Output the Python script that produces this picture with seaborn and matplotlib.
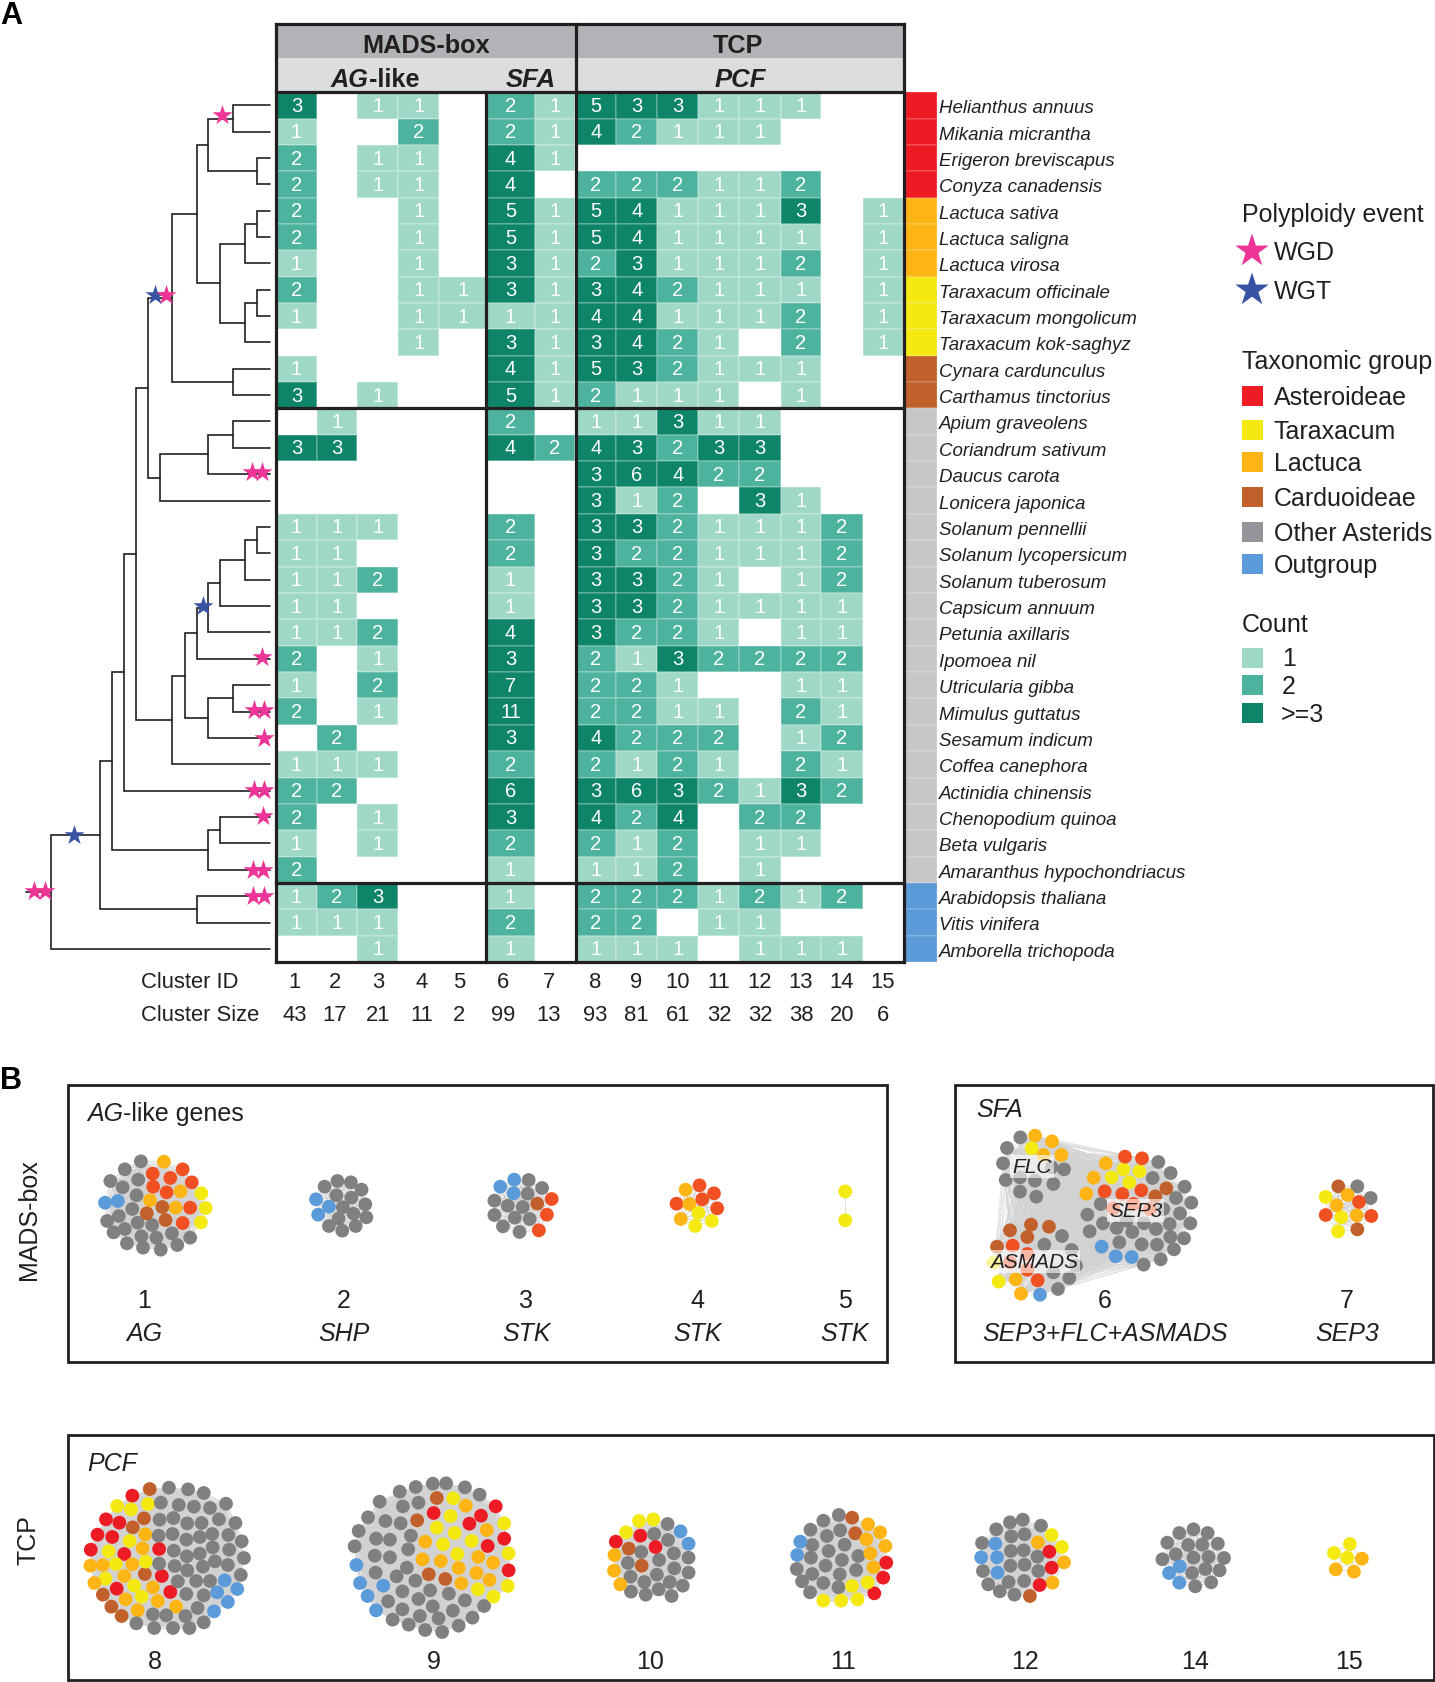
from itertools import combinations

import numpy as np
import pandas as pd
import matplotlib.pyplot as plt
import seaborn as sns
from matplotlib.collections import LineCollection
from matplotlib.colors import ListedColormap
from matplotlib.patches import Rectangle

sns.set_theme(style='white')
plt.rcParams['font.family'] = ['Liberation Sans', 'DejaVu Sans']

# ---- data: heatmap ----
species = ['Helianthus annuus', 'Mikania micrantha', 'Erigeron breviscapus', 'Conyza canadensis',
           'Lactuca sativa', 'Lactuca saligna', 'Lactuca virosa', 'Taraxacum officinale',
           'Taraxacum mongolicum', 'Taraxacum kok-saghyz', 'Cynara cardunculus', 'Carthamus tinctorius',
           'Apium graveolens', 'Coriandrum sativum', 'Daucus carota', 'Lonicera japonica',
           'Solanum pennellii', 'Solanum lycopersicum', 'Solanum tuberosum', 'Capsicum annuum',
           'Petunia axillaris', 'Ipomoea nil', 'Utricularia gibba', 'Mimulus guttatus',
           'Sesamum indicum', 'Coffea canephora', 'Actinidia chinensis', 'Chenopodium quinoa',
           'Beta vulgaris', 'Amaranthus hypochondriacus', 'Arabidopsis thaliana', 'Vitis vinifera',
           'Amborella trichopoda']
cluster_ids = list(range(1, 16))
cluster_sizes = [43, 17, 21, 11, 2, 99, 13, 93, 81, 61, 32, 32, 38, 20, 6]
counts = [
    [3, 0, 1, 1, 0, 2, 1, 5, 3, 3, 1, 1, 1, 0, 0],
    [1, 0, 0, 2, 0, 2, 1, 4, 2, 1, 1, 1, 0, 0, 0],
    [2, 0, 1, 1, 0, 4, 1, 0, 0, 0, 0, 0, 0, 0, 0],
    [2, 0, 1, 1, 0, 4, 0, 2, 2, 2, 1, 1, 2, 0, 0],
    [2, 0, 0, 1, 0, 5, 1, 5, 4, 1, 1, 1, 3, 0, 1],
    [2, 0, 0, 1, 0, 5, 1, 5, 4, 1, 1, 1, 1, 0, 1],
    [1, 0, 0, 1, 0, 3, 1, 2, 3, 1, 1, 1, 2, 0, 1],
    [2, 0, 0, 1, 1, 3, 1, 3, 4, 2, 1, 1, 1, 0, 1],
    [1, 0, 0, 1, 1, 1, 1, 4, 4, 1, 1, 1, 2, 0, 1],
    [0, 0, 0, 1, 0, 3, 1, 3, 4, 2, 1, 0, 2, 0, 1],
    [1, 0, 0, 0, 0, 4, 1, 5, 3, 2, 1, 1, 1, 0, 0],
    [3, 0, 1, 0, 0, 5, 1, 2, 1, 1, 1, 0, 1, 0, 0],
    [0, 1, 0, 0, 0, 2, 0, 1, 1, 3, 1, 1, 0, 0, 0],
    [3, 3, 0, 0, 0, 4, 2, 4, 3, 2, 3, 3, 0, 0, 0],
    [0, 0, 0, 0, 0, 0, 0, 3, 6, 4, 2, 2, 0, 0, 0],
    [0, 0, 0, 0, 0, 0, 0, 3, 1, 2, 0, 3, 1, 0, 0],
    [1, 1, 1, 0, 0, 2, 0, 3, 3, 2, 1, 1, 1, 2, 0],
    [1, 1, 0, 0, 0, 2, 0, 3, 2, 2, 1, 1, 1, 2, 0],
    [1, 1, 2, 0, 0, 1, 0, 3, 3, 2, 1, 0, 1, 2, 0],
    [1, 1, 0, 0, 0, 1, 0, 3, 3, 2, 1, 1, 1, 1, 0],
    [1, 1, 2, 0, 0, 4, 0, 3, 2, 2, 1, 0, 1, 1, 0],
    [2, 0, 1, 0, 0, 3, 0, 2, 1, 3, 2, 2, 2, 2, 0],
    [1, 0, 2, 0, 0, 7, 0, 2, 2, 1, 0, 0, 1, 1, 0],
    [2, 0, 1, 0, 0, 11, 0, 2, 2, 1, 1, 0, 2, 1, 0],
    [0, 2, 0, 0, 0, 3, 0, 4, 2, 2, 2, 0, 1, 2, 0],
    [1, 1, 1, 0, 0, 2, 0, 2, 1, 2, 1, 0, 2, 1, 0],
    [2, 2, 0, 0, 0, 6, 0, 3, 6, 3, 2, 1, 3, 2, 0],
    [2, 0, 1, 0, 0, 3, 0, 4, 2, 4, 0, 2, 2, 0, 0],
    [1, 0, 1, 0, 0, 2, 0, 2, 1, 2, 0, 1, 1, 0, 0],
    [2, 0, 0, 0, 0, 1, 0, 1, 1, 2, 0, 1, 0, 0, 0],
    [1, 2, 3, 0, 0, 1, 0, 2, 2, 2, 1, 2, 1, 2, 0],
    [1, 1, 1, 0, 0, 2, 0, 2, 2, 0, 1, 1, 0, 0, 0],
    [0, 0, 1, 0, 0, 1, 0, 1, 1, 1, 0, 1, 1, 1, 0],
]
# taxon group per species row: 0 Asteroideae, 1 Lactuca, 2 Taraxacum, 3 Carduoideae, 4 other, 5 outgroup
taxon_row = [0] * 4 + [1] * 3 + [2] * 3 + [3] * 2 + [4] * 18 + [5] * 3

# ---- data: species tree, (branch depth, child, child), ints are species rows ----
tree = (111,
        (217,
         (243,
          (270,
           (296,
            (322,
             (375,
              (428,
               (454, (507, 0, 1), (560, 2, 3)),
               (480, (533, (560, 4, 5), 6), (533, (560, 7, 8), 9))),
              (507, 10, 11)),
             (348, (454, (507, 12, 13), 14), 15)),
            (375,
             (402,
              (428, (454, (480, (533, (560, 16, 17), 18), 19), 20), 21),
              (454, (507, 22, 23), 24)),
             25)),
           26),
          (454, (480, 27, 28), 29)),
         (428, 30, 31)),
        32)
wgd_x = [484, 362, 548, 571, 570, 553, 575, 575, 553, 575, 572, 550, 573, 74, 98, 552, 574]
wgd_y = [116, 296, 473, 473, 658, 711, 711, 739, 791, 791, 817, 871, 871, 892, 892, 897, 897]
wgt_x = [338, 442, 161]
wgt_y = [296, 607, 836]

c1 = {'gray': [(151, 247), (121, 271), (94, 306), (146, 302), (117, 325), (143, 349), (135, 390), (110, 411), (88, 426),
               (121, 450), (100, 460), (145, 431), (172, 438), (152, 472), (180, 476), (209, 463), (243, 476),
               (219, 498), (188, 512), (155, 506), (125, 493)],
      'lact': [(194, 248), (225, 337), (168, 364), (216, 386)],
      'ast': [(229, 271), (173, 284), (206, 297), (246, 310), (174, 323), (199, 340), (243, 386), (229, 432)],
      'card': [(191, 384), (162, 403), (197, 423)],
      'tara': [(264, 343), (272, 387), (263, 430)],
      'out': [(84, 371), (108, 366)]}
c2 = {'gray': [(518, 306), (543, 310), (494, 323), (563, 332), (516, 349), (544, 356), (570, 376), (528, 385),
               (548, 404), (572, 415), (520, 419), (502, 441), (552, 441), (527, 455)],
      'out': [(478, 361), (502, 383), (482, 407)]}
c3 = {'gray': [(875, 303), (900, 327), (873, 344), (811, 365), (836, 380), (864, 384), (811, 408), (849, 416),
               (877, 420), (827, 442), (858, 459)],
      'out': [(848, 302), (822, 323), (847, 343)],
      'ast': [(918, 360), (909, 407), (894, 454)],
      'card': [(891, 374)]}
c4 = {'ast': [(1194, 319), (1221, 343), (1199, 361), (1151, 374), (1227, 388)],
      'lact': [(1168, 332), (1175, 375), (1159, 420)],
      'tara': [(1192, 402), (1217, 426), (1186, 441)]}
c5 = {'tara': [(1466, 337), (1466, 424)]}
c6 = {'gray': [(211, 175), (171, 207), (159, 253), (167, 303), (210, 338), (259, 353), (310, 315), (342, 271),
               (255, 305), (210, 295), (305, 265), (625, 249), (662, 282), (608, 297), (704, 323), (678, 357),
               (724, 371), (452, 375), (412, 407), (640, 390), (690, 403), (721, 433), (459, 433), (500, 447),
               (582, 433), (618, 450), (659, 435), (419, 457), (547, 459), (661, 474), (702, 478), (508, 490),
               (575, 496), (621, 497), (672, 511), (632, 541), (581, 557), (530, 425), (336, 471), (283, 497),
               (365, 513), (378, 560), (310, 580), (358, 597), (324, 630)],
      'lact': [(255, 170), (306, 187), (334, 228), (280, 228), (467, 253), (431, 296), (409, 344), (197, 601),
               (213, 644)],
      'tara': [(245, 208), (520, 271), (568, 277), (485, 295), (538, 310), (132, 550), (146, 608)],
      'ast': [(525, 233), (576, 238), (464, 337), (517, 345), (574, 334), (490, 388), (550, 375), (600, 390),
              (188, 500), (232, 525), (180, 550), (232, 572), (263, 604)],
      'card': [(649, 328), (616, 352), (180, 454), (243, 437), (297, 443), (232, 474), (141, 503)],
      'out': [(455, 503), (497, 532), (545, 534), (270, 647)]}
c7 = {'card': [(1165, 322), (1222, 451)],
      'gray': [(1222, 322), (1262, 357)],
      'tara': [(1127, 354), (1174, 415), (1164, 457)],
      'lact': [(1193, 348), (1160, 379), (1220, 409)],
      'ast': [(1227, 369), (1127, 408), (1264, 411)]}
c8 = {'ast2': [(162, 200), (103, 271), (133, 281), (84, 317), (117, 324), (69, 362), (144, 375), (222, 360),
               (228, 441), (127, 479), (247, 489)],
      'card': [(201, 180), (188, 268), (163, 295), (190, 435), (96, 497), (115, 533), (138, 561)],
      'tara': [(128, 231), (159, 241), (197, 225), (156, 336), (109, 367), (125, 405), (192, 398), (102, 449),
               (166, 470), (183, 503)],
      'lact': [(191, 316), (185, 358), (68, 410), (96, 408), (162, 406), (144, 441), (77, 462), (208, 475),
               (147, 511), (219, 516), (260, 533), (174, 544)],
      'gray': [(244, 176), (287, 181), (322, 192), (372, 224), (226, 221), (266, 228), (300, 233), (336, 237),
               (223, 272), (254, 267), (285, 283), (317, 282), (356, 271), (393, 282), (221, 320), (252, 315),
               (283, 332), (313, 324), (341, 315), (377, 318), (407, 337), (342, 355), (379, 362), (255, 365),
               (284, 382), (313, 374), (412, 387), (222, 404), (257, 411), (285, 424), (320, 413), (347, 397),
               (376, 408), (405, 438), (264, 457), (305, 456), (336, 456), (283, 495), (322, 499), (308, 537),
               (208, 556), (238, 559), (281, 561), (322, 580), (171, 583), (211, 597), (253, 597), (290, 597)],
      'out': [(369, 454), (397, 480), (352, 490), (376, 519), (345, 547)]}
c9 = {'gray': [(761, 188), (797, 174), (835, 164), (865, 163), (907, 175), (940, 197), (716, 218), (768, 232),
               (803, 221), (690, 265), (729, 276), (763, 283), (669, 306), (708, 329), (739, 332), (786, 320),
               (660, 352), (705, 380), (739, 385), (780, 361), (707, 431), (777, 416), (754, 442), (796, 455),
               (767, 487), (829, 484), (871, 494), (735, 517), (803, 510), (907, 514), (950, 531), (767, 541),
               (835, 532), (880, 545), (745, 572), (806, 561), (848, 568), (924, 566), (781, 587), (818, 603),
               (856, 609), (893, 590)],
      'card': [(844, 207), (800, 274), (826, 436), (863, 450)],
      'ast2': [(976, 232), (837, 252), (943, 260), (917, 284), (995, 329), (958, 351), (1005, 424)],
      'tara': [(881, 208), (875, 261), (995, 283), (844, 296), (884, 312), (858, 346), (922, 336), (890, 375),
               (1005, 373), (1003, 471), (936, 481), (971, 503)],
      'lact': [(909, 230), (956, 303), (818, 338), (812, 391), (853, 396), (937, 384), (970, 401), (893, 417),
               (933, 432), (962, 453), (899, 463)],
      'out': [(664, 408), (672, 462), (724, 470), (689, 501), (708, 544)]}
c10 = {'tara': [(1297, 276), (1329, 271), (1268, 310)],
       'gray': [(1361, 285), (1331, 315), (1362, 333), (1302, 369), (1375, 373), (1408, 386), (1272, 402), (1342, 393),
                (1376, 418), (1408, 431), (1278, 443), (1337, 437), (1309, 459), (1366, 459), (1395, 470), (1341, 481),
                (1279, 488), (1312, 497), (1370, 501)],
       'out': [(1390, 307), (1408, 344)],
       'ast2': [(1245, 338), (1300, 320), (1334, 354)],
       'card': [(1274, 359), (1303, 410)],
       'lact': [(1242, 378), (1241, 425), (1255, 466)]}
c11 = {'gray': [(223, 258), (188, 275), (159, 302), (226, 304), (196, 321), (163, 348), (236, 347), (200, 366),
                (160, 386), (267, 381), (230, 393), (193, 410), (128, 420), (262, 423), (163, 435), (225, 436),
                (140, 457), (188, 462), (222, 475), (158, 490)],
       'card': [(253, 266), (260, 313)],
       'lact': [(289, 286), (316, 310), (285, 331), (328, 351), (294, 373), (301, 415)],
       'out': [(136, 338), (129, 378)],
       'ast2': [(330, 401), (323, 446), (303, 493)],
       'tara': [(253, 471), (288, 460), (188, 515), (228, 515), (265, 511)]}
c12 = {'gray': [(609, 280), (638, 272), (578, 301), (679, 290), (612, 322), (642, 316), (546, 342), (611, 366),
                (640, 364), (671, 383), (610, 410), (642, 407), (548, 426), (673, 426), (606, 459), (641, 456),
                (560, 466), (586, 487), (619, 497)],
       'lact': [(672, 340), (731, 400), (705, 461)],
       'tara': [(703, 318), (726, 354)],
       'out': [(576, 344), (544, 385), (580, 385), (581, 431)],
       'ast2': [(698, 368), (703, 416), (676, 468)],
       'card': [(654, 501)]}
c14 = {'gray': [(991, 312), (1023, 301), (1055, 312), (964, 341), (1011, 348), (1043, 347), (1078, 344), (983, 376),
                (1023, 386), (1057, 384), (1092, 387), (953, 391), (1050, 420), (1020, 432), (1082, 424), (1063, 460),
                (1027, 472)],
       'out': [(992, 412), (968, 432), (991, 461)]}
c15 = {'tara': [(1376, 345), (1340, 372), (1370, 386)],
       'lact': [(1403, 389), (1344, 421), (1385, 428)]}

# ---- layout, reference pixels ----
W, H = 1435, 1683
col_edges = [276, 317, 357, 398.5, 439.5, 486, 535, 575, 616.5, 657.5, 698.3, 739.4, 780.6, 821.4, 862.7, 903.5]
id_x = [295, 334.7, 378, 422, 459, 503, 549, 595.5, 636, 678, 719, 760, 801, 842, 883]
row_breaks, row_px = [0, 12, 30, 33], [93.3, 409.3, 884, 963]
LEAF_X = 587
TREE_FX = 2.178
# crop origin and scale the node readings were taken in
CROP_TOP = (60, 1080, 1.867, 3)
CROP_SFA = (950, 1080, 3, 3)
CROP_PCF = (60, 1430, 2.24, 3)
CROP_PCF2 = (740, 1430, 2.256, 3)

INK = '#231f20'
RED, RED2, LACT, TARA, CARD, OUT = '#f15023', '#ed1c24', '#fdb515', '#f4e911', '#c1602a', '#5b9bd9'
node_colors = {'gray': '#808080', 'ast': RED, 'ast2': RED2, 'lact': LACT, 'tara': TARA, 'card': CARD, 'out': OUT}
bar_colors = [RED2, LACT, TARA, CARD, '#c6c7c9', OUT]
heat_colors = ['#9fd8c6', '#4db39e', '#0e8469']
PINK, BLUE = '#ec3596', '#3953a4'


def row_y(i):
    return np.interp(i, row_breaks, row_px)


def pixel_scales(ax, edges_x=None):
    # map cell indices onto the measured pixel edges
    if edges_x is not None:
        idx = np.arange(len(edges_x))
        ax.set_xscale('function', functions=(lambda v: np.interp(v, idx, edges_x),
                                             lambda v: np.interp(v, edges_x, idx)))
    ax.set_yscale('function', functions=(lambda v: np.interp(v, row_breaks, row_px),
                                         lambda v: np.interp(v, row_px, row_breaks)))
    ax.set_xticks([])
    ax.set_yticks([])
    ax.set_xlabel('')
    ax.set_ylabel('')


def axes_px(x0, y0, x1, y1, **kw):
    return fig.add_axes([x0 / W, 1 - y1 / H, (x1 - x0) / W, (y1 - y0) / H], **kw)


fig = plt.figure(figsize=(W / 100, H / 100), dpi=100)

# overlay in pixels for frames, labels, tree and networks
ax = fig.add_axes([0, 0, 1, 1], zorder=3)
ax.set_xlim(0, W)
ax.set_ylim(H, 0)
ax.axis('off')

# ---- A: heatmap ----
counts = np.array(counts)
heat_ax = axes_px(col_edges[0], row_px[0], col_edges[-1], row_px[-1], zorder=1)
sns.heatmap(np.minimum(counts, 3), mask=counts == 0, ax=heat_ax, cmap=ListedColormap(heat_colors),
            vmin=0.5, vmax=3.5, cbar=False, annot=counts, fmt='d', linewidths=0.3, linecolor='#ffffff30',
            annot_kws={'color': 'white', 'fontsize': 14.5})
pixel_scales(heat_ax, col_edges)

bar_ax = axes_px(903.5, row_px[0], 937, row_px[-1], zorder=1)
sns.heatmap(np.array(taxon_row).reshape(-1, 1), ax=bar_ax, cmap=ListedColormap(bar_colors), vmin=-0.5, vmax=5.5,
            cbar=False, linewidths=0.3, linecolor='#ffffff20')
pixel_scales(bar_ax)

for i, name in enumerate(species):
    ax.text(939, row_y(i + 0.5) + 2.5, name, style='italic', fontsize=13.5, color=INK, va='center')

# header bands
ax.add_patch(Rectangle((276, 25), 627.5, 34, fc='#b1b3b6', ec='none', zorder=0))
ax.add_patch(Rectangle((276, 59), 627.5, 34.3, fc='#dcddde', ec='none', zorder=0))
ax.text(425.6, 46, 'MADS-box', fontsize=18.2, fontweight='bold', color=INK, ha='center', va='center')
ax.text(738.4, 46, 'TCP', fontsize=18.2, fontweight='bold', color=INK, ha='center', va='center')
ag = ax.text(331, 80, 'AG', fontsize=18.2, fontweight='bold', style='italic', color=INK, va='center')
ax.annotate('-like', xy=(1, 0), xycoords=ag, va='bottom', fontsize=18.2, fontweight='bold', color=INK)
ax.text(531, 80, 'SFA', fontsize=18.5, fontweight='bold', style='italic', color=INK, ha='center', va='center')
ax.text(740, 80, 'PCF', fontsize=18.5, fontweight='bold', style='italic', color=INK, ha='center', va='center')

# heavy block lines
for y in [25] + row_px:
    ax.plot([276, 903.5], [y, y], color=INK, lw=2.3, solid_capstyle='projecting')
for x, top in [(276, 25), (486, 93.3), (576, 25), (903.5, 25)]:
    ax.plot([x, x], [top, row_px[-1]], color=INK, lw=2.3, solid_capstyle='projecting')

ax.text(141, 982.5, 'Cluster ID', fontsize=15.8, color=INK, va='center')
ax.text(141, 1016, 'Cluster Size', fontsize=15.8, color=INK, va='center')
for x, cid, size in zip(id_x, cluster_ids, cluster_sizes):
    ax.text(x, 982.5, str(cid), fontsize=15.8, color=INK, ha='center', va='center')
    ax.text(x, 1016, str(size), fontsize=15.8, color=INK, ha='center', va='center')


# ---- A: tree ----
def draw_clade(node):
    if isinstance(node, int):
        return LEAF_X, row_y(node + 0.5)
    depth, left, right = node
    lx, ly = draw_clade(left)
    rx, ry = draw_clade(right)
    ax.plot([lx / TREE_FX, depth / TREE_FX, depth / TREE_FX, rx / TREE_FX], [ly, ly, ry, ry],
            color=INK, lw=1.2, solid_joinstyle='miter')
    return depth, (ly + ry) / 2


root_x, root_y = draw_clade(tree)
ax.plot([57 / TREE_FX, root_x / TREE_FX], [root_y, root_y], color=INK, lw=1.2)
for xs, ys, colour in [(wgt_x, wgt_y, BLUE), (wgd_x, wgd_y, PINK)]:
    sns.scatterplot(x=np.array(xs) / TREE_FX, y=ys, ax=ax, marker='*', s=230, color=colour, linewidth=0,
                    zorder=4, legend=False)

# ---- A: legends ----
LEG_X, LEG_TXT = 1241.5, 1274
for txt, y in [('Polyploidy event', 215), ('Taxonomic group', 362), ('Count', 625)]:
    ax.text(LEG_X, y, txt, fontsize=18, color=INK, va='center')
sns.scatterplot(x=[1252, 1252], y=[252, 291], ax=ax, marker='*', s=640, hue=['WGD', 'WGT'],
                palette={'WGD': PINK, 'WGT': BLUE}, linewidth=0, legend=False)
for txt, y in [('WGD', 253), ('WGT', 292)]:
    ax.text(LEG_TXT, y, txt, fontsize=18, color=INK, va='center')
legend_groups = ['Asteroideae', 'Taraxacum', 'Lactuca', 'Carduoideae', 'Other Asterids', 'Outgroup']
legend_colors = [RED2, TARA, LACT, CARD, '#939598', OUT]
for txt, colour, y in zip(legend_groups, legend_colors, [397, 431, 463, 498, 533, 565]):
    ax.add_patch(Rectangle((LEG_X, y - 10), 21, 20, fc=colour, ec='none'))
    ax.text(LEG_TXT, y + 1, txt, fontsize=18, color=INK, va='center')
for txt, colour, y, tx, ha in zip(['1', '2', '>=3'], heat_colors, [658.5, 686, 714],
                                  [1289, 1289, 1281], ['center', 'center', 'left']):
    ax.add_patch(Rectangle((LEG_X, y - 10), 21, 20, fc=colour, ec='none'))
    ax.text(tx, y + 1, txt, fontsize=18, color=INK, va='center', ha=ha)

ax.text(0, 16, 'A', fontsize=22, fontweight='bold', color='black', va='center')
ax.text(0, 1081, 'B', fontsize=22, fontweight='bold', color='black', va='center')

# ---- B: panels ----
for x0, y0, x1, y1 in [(68, 1086, 886.5, 1362.5), (955, 1086, 1433, 1362.5), (68, 1436, 1433.5, 1680.5)]:
    ax.add_patch(Rectangle((x0, y0), x1 - x0, y1 - y0, fc='none', ec=INK, lw=2))
ax.text(29, 1220, 'MADS-box', fontsize=18, color=INK, rotation=90, ha='center', va='center')
ax.text(29, 1540, 'TCP', fontsize=18, color=INK, rotation=90, ha='center', va='center')

ag2 = ax.text(87, 1114, 'AG', fontsize=18, style='italic', color=INK, va='center')
ax.annotate('-like genes', xy=(1, 0), xycoords=ag2, va='bottom', fontsize=18, color=INK)
ax.text(976, 1110, 'SFA', fontsize=18, style='italic', color=INK, va='center')
ax.text(87.5, 1464, 'PCF', fontsize=18, style='italic', color=INK, va='center')

top_ids = ['1', '2', '3', '4', '5', '6', '7']
top_genes = ['AG', 'SHP', 'STK', 'STK', 'STK', 'SEP3+FLC+ASMADS', 'SEP3']
for txt, gene, x in zip(top_ids, top_genes, [144, 343.5, 526.5, 697.5, 845, 1105, 1347]):
    ax.text(x, 1301, txt, fontsize=18, color=INK, ha='center', va='center')
    ax.text(x, 1334.5, gene, fontsize=18, style='italic', color=INK, ha='center', va='center')
for txt, x in zip(['8', '9', '10', '11', '12', '14', '15'], [154.6, 434, 650, 843, 1025, 1195, 1348.6]):
    ax.text(x, 1662, txt, fontsize=18, color=INK, ha='center', va='center')

clusters = [(c1, CROP_TOP), (c2, CROP_TOP), (c3, CROP_TOP), (c4, CROP_TOP), (c5, CROP_TOP),
            (c6, CROP_SFA), (c7, CROP_SFA), (c8, CROP_PCF), (c9, CROP_PCF), (c10, CROP_PCF),
            (c11, CROP_PCF2), (c12, CROP_PCF2), (c14, CROP_PCF2), (c15, CROP_PCF2)]
rows, segments, seg_widths = [], [], []
for nodes, (cx, cy, fx, fy) in clusters:
    pts = []
    for taxon, readings in nodes.items():
        for px, py in readings:
            pts.append((cx + px / fx, cy + py / fy))
            rows.append({'x': pts[-1][0], 'y': pts[-1][1], 'taxon': taxon})
    pairs = list(combinations(pts, 2))
    segments.extend(pairs)
    # the SFA cluster is much sparser than a full clique
    seg_widths.extend([0.22 if nodes is c6 else 0.5] * len(pairs))
nodes_df = pd.DataFrame(rows)
ax.add_collection(LineCollection(segments, colors='#d2d2d2', linewidths=seg_widths, zorder=1.5))
sns.scatterplot(data=nodes_df, x='x', y='y', hue='taxon', palette=node_colors, s=98, linewidth=0, ax=ax,
                legend=False, zorder=2)

# gene names over the SFA network
for txt, px, py in [('FLC', 245, 262), ('SEP3', 557, 395), ('ASMADS', 253, 548)]:
    ax.text(CROP_SFA[0] + px / 3, CROP_SFA[1] + py / 3, txt, fontsize=15, style='italic', color=INK,
            ha='center', va='center', zorder=5,
            bbox=dict(fc='white', ec='none', alpha=0.6, pad=1.5))

ax.set_xlim(0, W)
ax.set_ylim(H, 0)
ax.set_xlabel('')
ax.set_ylabel('')

fig.savefig('out.png', dpi=100, facecolor='white')
